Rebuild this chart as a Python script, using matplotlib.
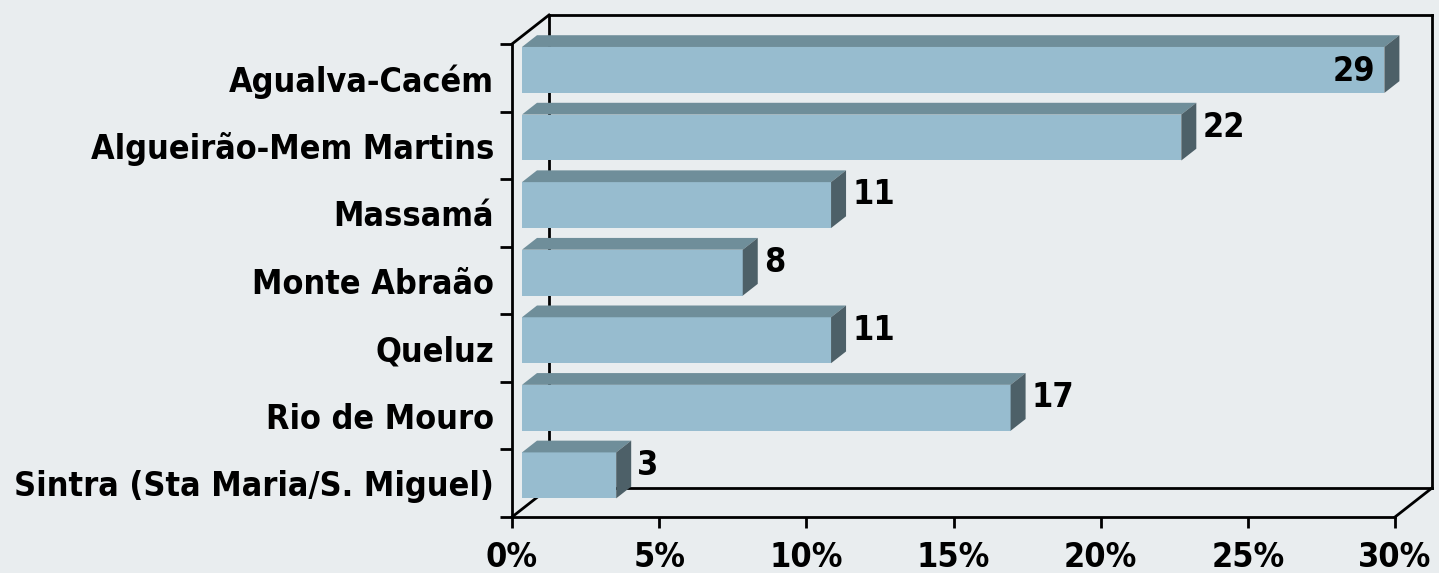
import matplotlib.pyplot as plt
import numpy as np
from matplotlib.patches import Polygon
from matplotlib.lines import Line2D
from matplotlib.transforms import ScaledTranslation, IdentityTransform

categories = ["Agualva-Cacém", "Algueirão-Mem Martins", "Massamá", "Monte Abraão",
              "Queluz", "Rio de Mouro", "Sintra (Sta Maria/S. Miguel)"]
values = [29.3, 22.4, 10.5, 7.5, 10.5, 16.6, 3.2]
value_labels = ["29", "22", "11", "8", "11", "17", "3"]
x_ticks = [0, 5, 10, 15, 20, 25, 30]
x_tick_labels = ["0%", "5%", "10%", "15%", "20%", "25%", "30%"]

BG = "#E9EDEF"
FRONT = "#97BCCF"
TOP = "#6F8E9A"
SIDE = "#4D6068"

plt.rcParams["font.family"] = "DejaVu Sans"
plt.rcParams["font.stretch"] = "condensed"
plt.rcParams["font.weight"] = "bold"
FS = 24.5

DEPTH = np.array([37.0, 29.0])   # px shift from front plane to back wall
D0, D1 = 10 / 37, 25 / 37        # bar depth range (fraction of DEPTH)
BAR_H = 0.68

fig = plt.figure(figsize=(14.39, 5.73), dpi=100, facecolor=BG)
ax = fig.add_axes([512 / 1439, 56 / 573, 883 / 1439, 473 / 573])
ax.set_facecolor("none")
n = len(categories)
pos = np.arange(n)
ax.set_xlim(0, 30)
ax.set_ylim(n - 0.5, -0.5)


def disp(x, y, d):
    return ax.transData.transform((x, y)) + d * DEPTH


def shifted(d):
    return ax.transData + ScaledTranslation(d * DEPTH[0] / 100, d * DEPTH[1] / 100, fig.dpi_scale_trans)


# back wall and floor edges
lw = 2.0
back = shifted(1.0)
ax.plot([0, 30], [-0.5, -0.5], color="black", lw=lw, transform=back, clip_on=False, zorder=1)
ax.plot([30, 30], [-0.5, n - 0.5], color="black", lw=lw, transform=back, clip_on=False, zorder=1)
ax.plot([0, 30], [n - 0.5, n - 0.5], color="black", lw=lw, transform=back, clip_on=False, zorder=1)
ax.plot([0, 0], [-0.5, n - 0.5], color="black", lw=lw, transform=back, clip_on=False, zorder=1)
for cx, cy in [(0, -0.5), (0, n - 0.5), (30, n - 0.5)]:
    p0, p1 = disp(cx, cy, 0), disp(cx, cy, 1)
    ax.add_line(Line2D([p0[0], p1[0]], [p0[1], p1[1]], color="black", lw=lw,
                       transform=IdentityTransform(), clip_on=False, zorder=1))

# bars: front face
ax.barh(pos, values, height=BAR_H, color=FRONT, transform=shifted(D0), clip_on=False, zorder=3)
# top and side faces
for y, v in zip(pos, values):
    yt, yb = y - BAR_H / 2, y + BAR_H / 2
    top = [disp(0, yt, D0), disp(v, yt, D0), disp(v, yt, D1), disp(0, yt, D1)]
    side = [disp(v, yt, D0), disp(v, yt, D1), disp(v, yb, D1), disp(v, yb, D0)]
    ax.add_patch(Polygon(top, closed=True, facecolor=TOP, edgecolor="none",
                         transform=IdentityTransform(), clip_on=False, zorder=3))
    ax.add_patch(Polygon(side, closed=True, facecolor=SIDE, edgecolor="none",
                         transform=IdentityTransform(), clip_on=False, zorder=3))

# value labels
for y, v, lab in zip(pos, values, value_labels):
    if v > 27:
        ax.annotate(lab, (v, y), xytext=(1, 6), textcoords="offset pixels",
                    ha="right", va="center", fontsize=FS, zorder=5)
    else:
        ax.annotate(lab, (v, y), xytext=(31, 18), textcoords="offset pixels",
                    ha="left", va="center", fontsize=FS, zorder=5)

# axes
for s in ["top", "right"]:
    ax.spines[s].set_visible(False)
for s in ["left", "bottom"]:
    ax.spines[s].set_linewidth(lw)
    ax.spines[s].set_zorder(4)
ax.set_xticks(x_ticks)
ax.set_xticklabels(x_tick_labels, fontsize=FS)
ax.tick_params(axis="x", length=8, width=lw, pad=9)
ax.set_yticks(np.arange(n + 1) - 0.5)
ax.set_yticklabels([])
ax.set_yticks(pos, minor=True)
ax.set_yticklabels(categories, minor=True, fontsize=FS)
ax.tick_params(axis="y", which="major", length=9, width=lw)
ax.tick_params(axis="y", which="minor", length=0, pad=13)

fig.savefig("out.png", dpi=100, facecolor=BG)
